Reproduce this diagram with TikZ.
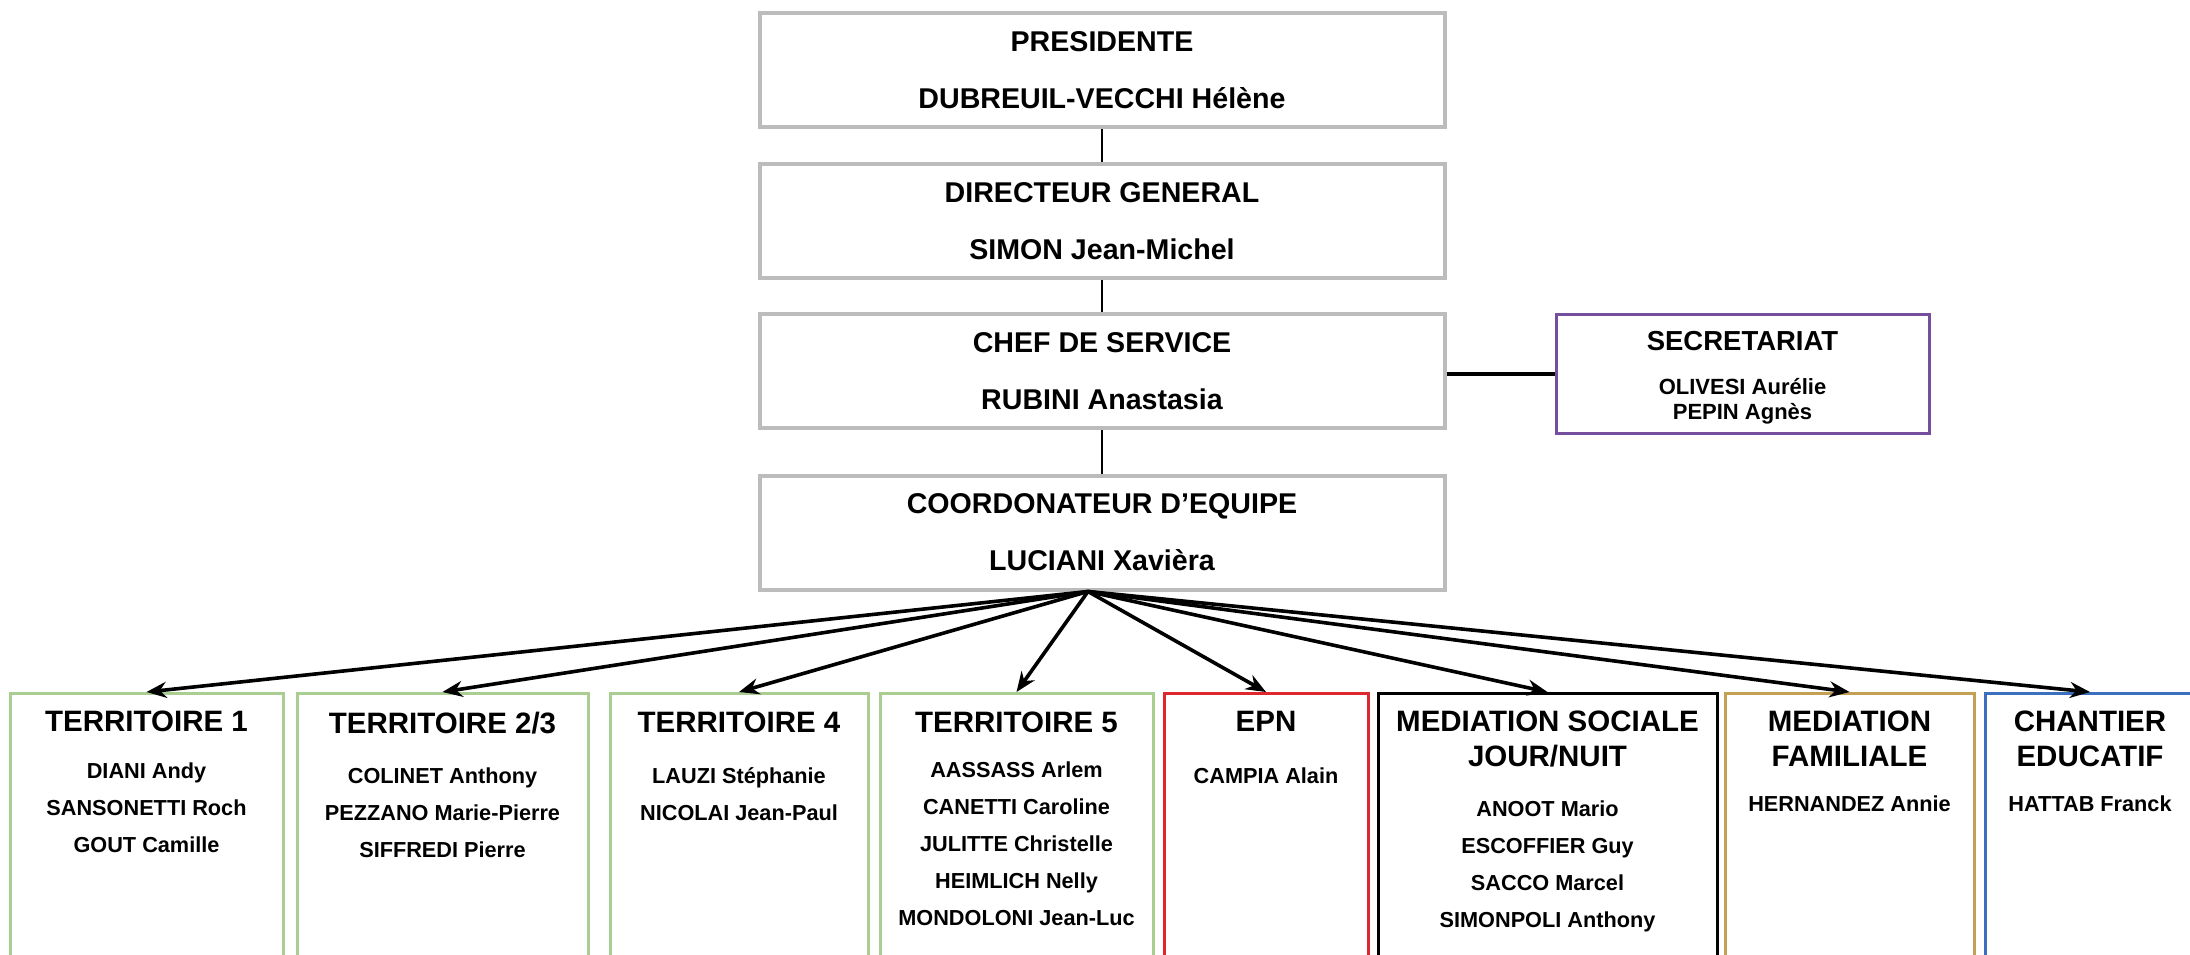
\documentclass[tikz,border=0pt]{standalone}
\usepackage{fontspec}
\setmainfont{Liberation Sans}
\usetikzlibrary{arrows.meta}

\definecolor{boxgrey}{RGB}{188,188,188}
\definecolor{terrgreen}{RGB}{170,206,146}
\definecolor{epnred}{RGB}{222,40,48}
\definecolor{famgold}{RGB}{196,160,84}
\definecolor{chantblue}{RGB}{58,112,190}
\definecolor{secpurple}{RGB}{118,78,158}

\tikzset{
  head/.style={draw=boxgrey, line width=2pt, minimum width=342.5pt, minimum height=57pt,
    align=center, font=\bfseries\fontsize{14.3}{28.5}\selectfont},
  unit/.style={draw=#1, line width=1.5pt, anchor=north, minimum height=150pt},
  unittitle/.style={anchor=north, inner sep=0pt, align=center,
    font=\bfseries\fontsize{14.75}{17.5}\selectfont},
  unitnames/.style={anchor=north, inner sep=0pt, align=center,
    font=\bfseries\fontsize{10.85}{18.5}\selectfont},
  link/.style={line width=1pt},
  branch/.style={line width=1.8pt, -{Stealth[length=10pt,width=8pt]}}
}

\begin{document}
\begin{tikzpicture}[x=0.5pt, y=-0.5pt]
\clip (0,0) rectangle (2190,954);
\fill[white] (0,0) rectangle (2190,954);

\node[head] (pres) at (1102,70) {PRESIDENTE\\DUBREUIL-VECCHI Hélène};
\node[head] (dir) at (1102,221) {DIRECTEUR GENERAL\\SIMON Jean-Michel};
\node[head] (chef) at (1102,371) {CHEF DE SERVICE\\RUBINI Anastasia};
\node[head] (coord) at (1102,532.5) {COORDONATEUR D’EQUIPE\\LUCIANI Xavièra};

\node[draw=secpurple, line width=1.5pt, minimum width=186.5pt, minimum height=59.5pt] (secret) at (1742.5,373.5) {};
\node[anchor=north, inner sep=0pt, font=\bfseries\fontsize{13.75}{16}\selectfont] (secrettitle) at ([yshift=-9pt]secret.north) {SECRETARIAT};
\node[anchor=north, inner sep=0pt, align=center, font=\bfseries\fontsize{11}{12.5}\selectfont] (secretnames) at ([yshift=-32.5pt]secret.north) {OLIVESI Aurélie\\PEPIN Agnès};

\draw[link] (pres) -- (dir);
\draw[link] (dir) -- (chef);
\draw[link] (chef) -- (coord);
\draw[line width=2pt] (secret.west -| chef.east) -- (secret.west);

\node[unit=terrgreen, minimum width=136.5pt] (t1) at (146.5,692) {};
\node[unit=terrgreen, minimum width=145.5pt] (t23) at (442.5,692) {};
\node[unit=terrgreen, minimum width=129pt] (t4) at (739,692) {};
\node[unit=terrgreen, minimum width=136.5pt] (t5) at (1016.5,692) {};
\node[unit=epnred, minimum width=102pt] (epn) at (1266,692) {};
\node[unit=black, minimum width=169.5pt] (medsoc) at (1547.5,692) {};
\node[unit=famgold, minimum width=124.5pt] (medfam) at (1849.5,692) {};
\node[unit=chantblue, minimum width=105pt] (chantier) at (2090,692) {};

\node[unittitle] (t1title) at ([yshift=-9pt]t1.north) {TERRITOIRE 1};
\node[unitnames] (t1names) at ([yshift=-35pt]t1.north) {DIANI Andy\\SANSONETTI Roch\\GOUT Camille};

\node[unittitle] (t23title) at ([yshift=-10pt]t23.north) {TERRITOIRE 2/3};
\node[unitnames] (t23names) at ([yshift=-37.5pt]t23.north) {COLINET Anthony\\PEZZANO Marie-Pierre\\SIFFREDI Pierre};

\node[unittitle] (t4title) at ([yshift=-9.5pt]t4.north) {TERRITOIRE 4};
\node[unitnames] (t4names) at ([yshift=-37.5pt]t4.north) {LAUZI Stéphanie\\NICOLAI Jean-Paul};

\node[unittitle] (t5title) at ([yshift=-9.5pt]t5.north) {TERRITOIRE 5};
\node[unitnames] (t5names) at ([yshift=-34.5pt]t5.north) {AASSASS Arlem\\CANETTI Caroline\\JULITTE Christelle\\HEIMLICH Nelly\\MONDOLONI Jean-Luc};

\node[unittitle] (epntitle) at ([yshift=-9.5pt]epn.north) {EPN};
\node[unitnames] (epnnames) at ([yshift=-37.5pt]epn.north) {CAMPIA Alain};

\node[unittitle] (medsoctitle) at ([yshift=-9pt]medsoc.north) {MEDIATION SOCIALE\\JOUR/NUIT};
\node[unitnames] (medsocnames) at ([yshift=-54pt]medsoc.north) {ANOOT Mario\\ESCOFFIER Guy\\SACCO Marcel\\SIMONPOLI Anthony};

\node[unittitle] (medfamtitle) at ([yshift=-9pt]medfam.north) {MEDIATION\\FAMILIALE};
\node[unitnames] (medfamnames) at ([yshift=-51.5pt]medfam.north) {HERNANDEZ Annie};

\node[unittitle] (chantiertitle) at ([yshift=-9pt]chantier.north) {CHANTIER\\EDUCATIF};
\node[unitnames] (chantiernames) at ([yshift=-51.5pt]chantier.north) {HATTAB Franck};

\coordinate (hub) at ([xshift=-7pt]coord.south);
\foreach \u in {t1,t23,t4,t5,epn,medsoc,medfam,chantier}
  \draw[branch] (hub) -- (\u.north);
\end{tikzpicture}
\end{document}
